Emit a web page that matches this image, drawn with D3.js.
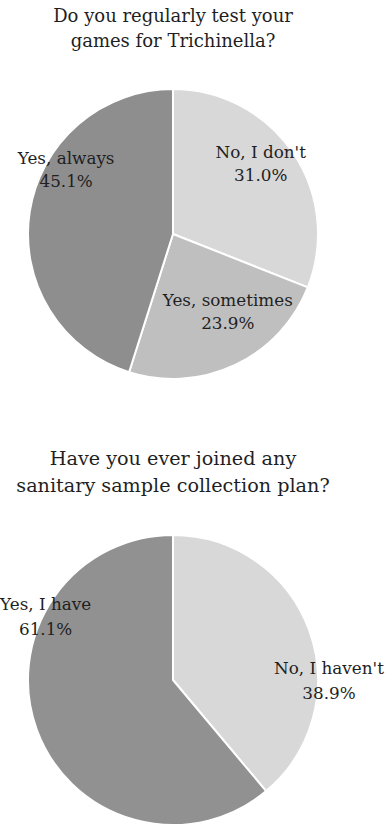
<!DOCTYPE html>
<html>
<head>
<meta charset="utf-8">
<script src="https://cdn.jsdelivr.net/npm/d3@7"></script>
<style>
  html, body { margin: 0; padding: 0; background: #fff; }
  svg { display: block; }
  text { font-family: "DejaVu Serif", "Liberation Serif", serif; fill: #1f1f1f; }
</style>
</head>
<body>
<div id="chart"></div>
<script>
// Survey answers, in percent
const testCategories = ["No, I don't", "Yes, sometimes", "Yes, always"];
const testValues = [31.0, 23.9, 45.1];
const testTitle = ["Do you regularly test your", "games for Trichinella?"];

const planCategories = ["No, I haven't", "Yes, I have"];
const planValues = [38.9, 61.1];
const planTitle = ["Have you ever joined any", "sanitary sample collection plan?"];

const width = 386, height = 828;
const radius = 145;

const svg = d3.select("#chart").append("svg")
  .attr("width", width)
  .attr("height", height);

svg.append("rect").attr("width", width).attr("height", height).attr("fill", "#fff");

// Label anchors: angle (degrees clockwise from 12 o'clock) and distance from the pie centre
const panels = [
  {
    categories: testCategories, values: testValues, title: testTitle,
    cx: 173, cy: 234, titleY: 22, titleSize: 18, titleGap: 25, labelGap: 23,
    colors: ["#d8d8d8", "#bfbfbf", "#8e8e8e"],
    labelAt: [[50.3, 114], [143.9, 93], [302, 126]]
  },
  {
    categories: planCategories, values: planValues, title: planTitle,
    cx: 173, cy: 680, titleY: 465, titleSize: 19.2, titleGap: 27, labelGap: 25,
    colors: ["#d8d8d8", "#919191"],
    labelAt: [[88.9, 156], [297.8, 144]]
  }
];

const fmt = d3.format(".1f");

panels.forEach(p => {
  const rows = p.categories.map((c, i) => ({ category: c, value: p.values[i], color: p.colors[i], at: p.labelAt[i] }));

  const pie = d3.pie().sort(null).value(d => d.value);
  const arc = d3.arc().innerRadius(0).outerRadius(radius);

  const g = svg.append("g").attr("transform", `translate(${p.cx},${p.cy})`);

  g.selectAll("path.slice")
    .data(pie(rows))
    .join("path")
    .attr("class", "slice")
    .attr("d", arc)
    .attr("fill", d => d.data.color)
    .attr("stroke", "#fff")
    .attr("stroke-width", 2)
    .attr("stroke-linejoin", "round");

  // Title, two centred lines
  svg.append("text")
    .attr("x", p.cx)
    .attr("y", p.titleY)
    .attr("text-anchor", "middle")
    .style("font-size", p.titleSize + "px")
    .selectAll("tspan")
    .data(p.title)
    .join("tspan")
    .attr("x", p.cx)
    .attr("dy", (d, i) => i === 0 ? 0 : p.titleGap)
    .text(d => d);

  // Category name and share
  const labels = g.selectAll("text.label")
    .data(pie(rows))
    .join("text")
    .attr("class", "label")
    .attr("text-anchor", "middle")
    .style("font-size", "16.8px")
    .attr("transform", d => {
      const a = d.data.at[0] * Math.PI / 180, r = d.data.at[1];
      return `translate(${r * Math.sin(a)},${-r * Math.cos(a)})`;
    });

  labels.append("tspan").attr("x", 0).attr("y", -3).text(d => d.data.category);
  labels.append("tspan").attr("x", 0).attr("y", -3 + p.labelGap).text(d => fmt(d.data.value) + "%");
});
</script>
</body>
</html>
